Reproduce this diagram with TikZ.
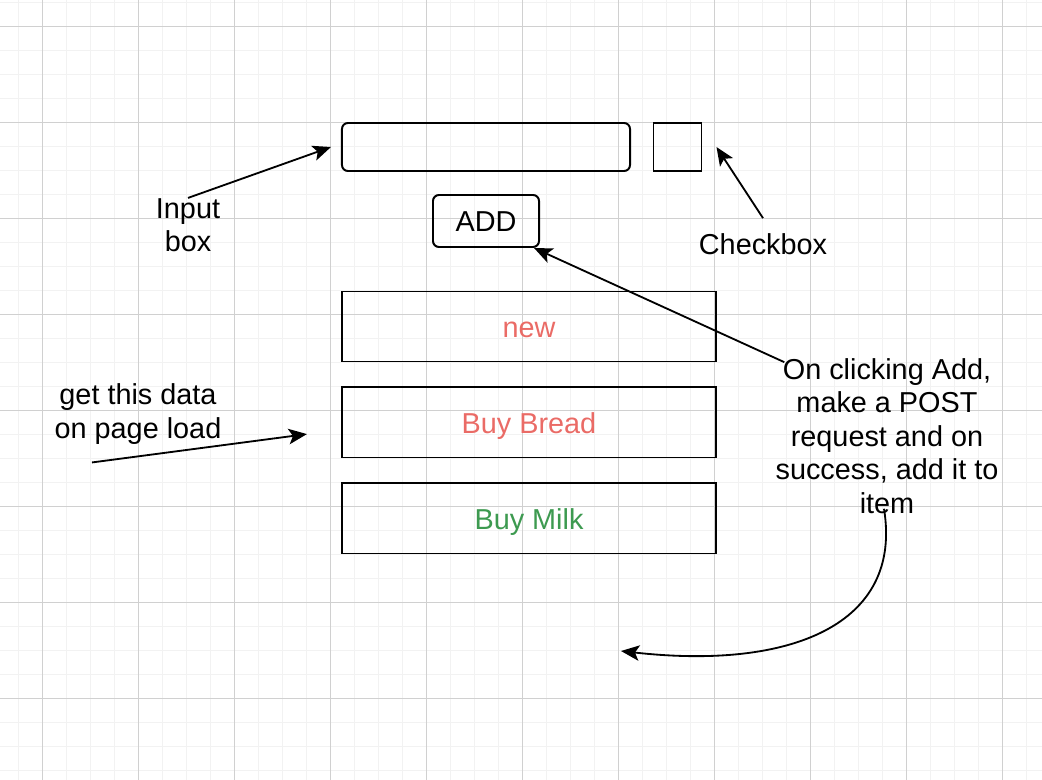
\documentclass[tikz,border=0pt]{standalone}
\usepackage{fontspec}
\setmainfont{Liberation Sans}
\usetikzlibrary{positioning,arrows.meta}
\definecolor{itemred}{HTML}{EA6B66}
\definecolor{itemgreen}{HTML}{3D9A50}
\definecolor{gridmajor}{HTML}{D0D0D0}
\definecolor{gridminor}{HTML}{F2F2F2}
\tikzset{
  uifont/.style={font=\fontsize{20.5}{23.8}\selectfont},
  inputfield/.style={rectangle, draw, line width=1.4pt, rounded corners=0.15cm, minimum width=7.2cm, minimum height=1.2cm},
  checkfield/.style={rectangle, draw, line width=1.4pt, minimum width=1.2cm, minimum height=1.2cm},
  addbutton/.style={rectangle, draw, line width=1.4pt, rounded corners=0.15cm, minimum width=2.65cm, minimum height=1.3cm, text height=0.52cm, text depth=0pt, uifont},
  itemrow/.style={rectangle, draw, line width=1.4pt, minimum width=9.35cm, minimum height=1.75cm, text height=0.55cm, text depth=0pt, uifont},
  note/.style={align=center, inner sep=0pt, uifont},
  fwd/.style={-{Stealth[length=13pt, width=11pt, inset=3pt]}, line width=1.3pt},
  gridthin/.style={gridminor, line width=0.7pt},
  gridthick/.style={gridmajor, line width=0.7pt},
}
\begin{document}
\begin{tikzpicture}[x=0.025cm, y=-0.025cm]
  \useasboundingbox (0,0) rectangle (1042,780);
  % background grid
  \foreach \x in {18,42,...,1042} \draw[gridthin] (\x,0) -- (\x,780);
  \foreach \y in {2,26,...,780} \draw[gridthin] (0,\y) -- (1042,\y);
  \foreach \x in {42,138,...,1042} \draw[gridthick] (\x,0) -- (\x,780);
  \foreach \y in {26,122,...,780} \draw[gridthick] (0,\y) -- (1042,\y);

  % form
  \node[inputfield] (inputbox) at (486,147) {};
  \node[checkfield] (checkbox) at (677.5,147) {};
  \node[addbutton] (addbtn) at (486,221) {ADD};

  % list of items
  \node[itemrow, text=itemred] (itemnew) at (529,326.5) {new};
  \node[itemrow, text=itemred, below=0.6cm of itemnew] (itembread) {Buy Bread};
  \node[itemrow, text=itemgreen, below=0.6cm of itembread] (itemmilk) {Buy Milk};

  % notes
  \node[note] (inputlbl) at (188,225) {Input\\box};
  \node[note] (checklbl) at (763,244) {Checkbox};
  \node[note] (datalbl) at (138,414) {get this data\\on page load};
  \node[note] (clicklbl) at (887,436) {On clicking Add,\\make a POST\\request and on\\success, add it to\\item};
  \coordinate (newitem) at (621,651);

  \draw[fwd] (inputlbl.north) -- ([xshift=-0.25cm]inputbox.west);
  \draw[fwd] ([yshift=0.375cm]checklbl.north) -- ([xshift=0.35cm]checkbox.east);
  \draw[fwd] ([xshift=0.225cm, yshift=-0.1cm]clicklbl.north west) -- ([xshift=-0.15cm]addbtn.south east);
  \draw[fwd] ([xshift=-1.15cm, yshift=-0.45cm]datalbl.south) -- ([xshift=-0.85cm, yshift=-0.29cm]itembread.west);
  \draw[fwd] ([xshift=-0.075cm, yshift=0.125cm]clicklbl.south) .. controls (903,625) and (790,670) .. (newitem);
\end{tikzpicture}
\end{document}
